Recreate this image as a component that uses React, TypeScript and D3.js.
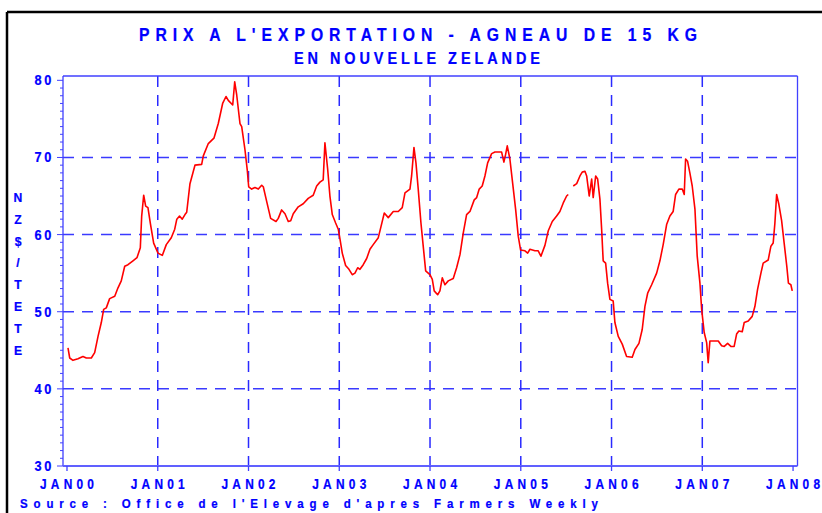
import React from "react";
import * as d3 from "d3";

const times: number[] = [
  2000.011, 2000.030, 2000.066, 2000.121, 2000.176, 2000.213, 2000.268, 2000.305, 2000.342, 2000.378,
  2000.404, 2000.433, 2000.470, 2000.526, 2000.562, 2000.598, 2000.636, 2000.672, 2000.727, 2000.771,
  2000.808, 2000.823, 2000.845, 2000.867, 2000.892, 2000.918, 2000.955, 2001.003, 2001.050, 2001.094,
  2001.149, 2001.187, 2001.210, 2001.240, 2001.270, 2001.300, 2001.319, 2001.355, 2001.410, 2001.484,
  2001.502, 2001.557, 2001.619, 2001.667, 2001.715, 2001.752, 2001.777, 2001.826, 2001.848, 2001.870,
  2001.906, 2001.925, 2001.961, 2001.986, 2002.002, 2002.035, 2002.071, 2002.108, 2002.145, 2002.163,
  2002.200, 2002.244, 2002.303, 2002.328, 2002.365, 2002.402, 2002.438, 2002.465, 2002.493, 2002.548,
  2002.603, 2002.658, 2002.713, 2002.751, 2002.787, 2002.823, 2002.842, 2002.872, 2002.897, 2002.923,
  2002.960, 2002.989, 2003.008, 2003.033, 2003.070, 2003.107, 2003.143, 2003.173, 2003.203, 2003.228,
  2003.264, 2003.302, 2003.338, 2003.374, 2003.430, 2003.459, 2003.496, 2003.540, 2003.595, 2003.650,
  2003.694, 2003.724, 2003.779, 2003.797, 2003.823, 2003.845, 2003.870, 2003.900, 2003.925, 2003.952,
  2003.980, 2003.999, 2004.025, 2004.046, 2004.084, 2004.109, 2004.135, 2004.164, 2004.201, 2004.256,
  2004.293, 2004.330, 2004.366, 2004.403, 2004.440, 2004.487, 2004.514, 2004.542, 2004.575, 2004.605,
  2004.635, 2004.679, 2004.715, 2004.789, 2004.814, 2004.833, 2004.851, 2004.880, 2004.910, 2004.943,
  2004.972, 2004.998, 2005.046, 2005.076, 2005.101, 2005.156, 2005.192, 2005.222, 2005.266, 2005.303,
  2005.347, 2005.395, 2005.431, 2005.468, 2005.505, 2005.523, 2005.550, 2005.578, 2005.616, 2005.652,
  2005.677, 2005.707, 2005.726, 2005.754, 2005.781, 2005.798, 2005.825, 2005.847, 2005.872, 2005.891,
  2005.908, 2005.935, 2005.957, 2005.982, 2006.018, 2006.037, 2006.074, 2006.118, 2006.166, 2006.228,
  2006.258, 2006.302, 2006.338, 2006.368, 2006.398, 2006.442, 2006.497, 2006.533, 2006.569, 2006.607,
  2006.643, 2006.679, 2006.706, 2006.742, 2006.779, 2006.801, 2006.816, 2006.838, 2006.863, 2006.889,
  2006.919, 2006.944, 2006.974, 2006.993, 2007.021, 2007.048, 2007.065, 2007.084, 2007.139, 2007.176,
  2007.213, 2007.242, 2007.279, 2007.315, 2007.351, 2007.378, 2007.403, 2007.440, 2007.462, 2007.506,
  2007.550, 2007.580, 2007.609, 2007.646, 2007.671, 2007.726, 2007.756, 2007.781, 2007.800, 2007.819,
  2007.844, 2007.874, 2007.902, 2007.931, 2007.949, 2007.976, 2007.991,
];

// Price in NZ$ per head (null = missing week)
const prices: (number | null)[] = [
  45.3, 44.0, 43.7, 43.9, 44.2, 44.0, 44.0, 44.7, 46.8, 48.6,
  50.3, 50.5, 51.7, 52.0, 53.1, 54.0, 55.9, 56.1, 56.6, 57.0,
  58.3, 62.4, 65.1, 63.7, 63.5, 61.5, 58.9, 57.6, 57.3, 58.7,
  59.6, 60.7, 62.0, 62.4, 62.0, 62.6, 62.9, 66.6, 69.0, 69.1,
  70.2, 71.8, 72.5, 74.4, 77.0, 77.9, 77.4, 76.8, 79.8, 78.1,
  74.4, 74.0, 71.0, 68.4, 66.2, 65.9, 66.1, 65.9, 66.4, 66.2,
  64.3, 62.1, 61.7, 62.1, 63.2, 62.7, 61.7, 61.8, 62.7, 63.6,
  64.0, 64.7, 65.1, 66.3, 66.8, 67.1, 71.9, 68.5, 65.0, 62.6,
  61.5, 60.7, 59.4, 57.6, 56.0, 55.5, 54.8, 55.0, 55.7, 55.5,
  56.1, 56.9, 58.1, 58.7, 59.6, 61.0, 62.8, 62.2, 63.0, 63.0,
  63.5, 65.4, 65.9, 67.6, 71.3, 69.3, 65.9, 61.5, 58.5, 55.3,
  55.0, 54.8, 54.2, 52.7, 52.2, 52.7, 54.4, 53.5, 54.0, 54.3,
  55.7, 57.4, 60.2, 62.6, 63.0, 64.5, 64.8, 65.9, 66.3, 67.6,
  69.3, 70.5, 70.7, 70.7, 69.4, 70.4, 71.5, 69.8, 66.7, 63.3,
  59.8, 58.0, 57.9, 57.6, 58.1, 57.9, 57.9, 57.2, 58.6, 60.5,
  61.7, 62.4, 63.0, 64.1, 65.0, 65.2, null, 66.3, 66.6, 67.6,
  68.1, 68.2, 67.6, 65.0, 67.2, 64.8, 67.6, 67.2, 64.6, 60.7,
  56.6, 56.3, 53.7, 51.6, 51.4, 48.6, 46.8, 45.8, 44.2, 44.1,
  45.1, 45.9, 47.7, 50.7, 52.4, 53.5, 55.0, 56.6, 58.7, 61.3,
  62.4, 63.0, 65.2, 65.9, 65.9, 65.2, 69.8, 69.5, 68.0, 66.3,
  63.3, 57.2, 53.7, 50.3, 47.3, 46.0, 43.4, 46.2, 46.2, 46.2,
  45.6, 45.5, 45.9, 45.5, 45.5, 47.1, 47.5, 47.4, 48.6, 48.8,
  49.4, 50.7, 52.9, 55.0, 56.3, 56.7, 58.5, 58.9, 61.5, 65.2,
  63.9, 61.8, 58.9, 55.9, 53.7, 53.5, 52.7,
];

const yearTicks: number[] = [2000, 2001, 2002, 2003, 2004, 2005, 2006, 2007, 2008];
const yearLabels: string[] = ["JAN00", "JAN01", "JAN02", "JAN03", "JAN04", "JAN05", "JAN06", "JAN07", "JAN08"];
const priceTicks: number[] = [30, 40, 50, 60, 70, 80];
const yTitle: string[] = ["N", "Z", "$", "/", "T", "E", "T", "E"];

const BLUE = "#0000ff";
const FRAME = "#4040ff";
const FONT = "'Liberation Sans', Arial, sans-serif";

// Condensed bold text: glyphs squeezed horizontally, total width fixed
function CText(props: {
  x: number; y: number; size: number; sx: number; anchor?: "start" | "middle" | "end";
  width?: number; spacing?: number; children: React.ReactNode;
}) {
  const { x, y, size, sx, anchor = "start", width, spacing, children } = props;
  return (
    <text
      transform={`translate(${x},${y}) scale(${sx},1)`}
      textAnchor={anchor}
      fill={BLUE}
      stroke={BLUE}
      strokeWidth={0.25}
      fontFamily={FONT}
      fontWeight="bold"
      fontSize={size}
      letterSpacing={spacing}
      textLength={width ? width / sx : undefined}
      lengthAdjust={width ? "spacing" : undefined}
    >
      {children}
    </text>
  );
}

export default function App() {
  const left = 63, right = 797.5, top = 76, bottom = 466;
  const x = d3.scaleLinear().domain([1999.956, 2008.049]).range([left, right]);
  const y = d3.scaleLinear().domain([30, 80.56]).range([bottom, top]);

  const pts = times.map((t, i) => ({ t, v: prices[i] }));
  const line = d3
    .line<{ t: number; v: number | null }>()
    .defined((d) => d.v !== null)
    .x((d) => x(d.t))
    .y((d) => y(d.v as number));

  const minor = d3.range(30, 81, 1);

  return (
    <svg width={822} height={513} style={{ position: "absolute", left: 0, top: 0, background: "#fff" }}>
      <rect x={0} y={0} width={822} height={513} fill="#fff" />
      {/* black outer frame */}
      <line x1={7} y1={12} x2={822} y2={12} stroke="#000" strokeWidth={2.5} />
      <line x1={7} y1={12} x2={7} y2={513} stroke="#000" strokeWidth={2.5} />

      {/* titles */}
      <CText x={418} y={41} size={18.5} sx={0.85} anchor="middle" width={558}>
        PRIX A L'EXPORTATION - AGNEAU DE 15 KG
      </CText>
      <CText x={417} y={64} size={17} sx={0.85} anchor="middle" width={246}>
        EN NOUVELLE ZELANDE
      </CText>

      {/* gridlines */}
      {priceTicks.filter((v) => v > 30 && v < 80).map((v) => (
        <line key={"h" + v} x1={left} x2={right} y1={y(v)} y2={y(v)} stroke="#3a3aff"
          strokeWidth={1.5} strokeDasharray="11 8" />
      ))}
      {yearTicks.filter((t) => t > 2000 && t < 2008).map((t) => (
        <line key={"v" + t} x1={x(t)} x2={x(t)} y1={top} y2={bottom} stroke="#2a2aff"
          strokeWidth={1.5} strokeDasharray="11 8" />
      ))}

      {/* frame */}
      <line x1={left} x2={right} y1={top} y2={top} stroke={FRAME} strokeWidth={1.3} />
      <line x1={right} x2={right} y1={top} y2={bottom} stroke={FRAME} strokeWidth={1.3} />
      <line x1={left} x2={left} y1={top} y2={bottom} stroke={FRAME} strokeWidth={1.3} />
      <line x1={left} x2={right} y1={bottom} y2={bottom} stroke="#6060ff" strokeWidth={2} />

      {/* y ticks */}
      {minor.map((v) => (
        <line key={"m" + v} x1={v % 10 === 0 ? left - 6 : left - 3} x2={left} y1={y(v)} y2={y(v)}
          stroke={FRAME} strokeWidth={1} />
      ))}
      {priceTicks.map((v) => (
        <CText key={"yl" + v} x={54} y={y(v) + 5} size={14.5} sx={0.88} anchor="end" spacing={3}>
          {v}
        </CText>
      ))}

      {/* x ticks */}
      {yearTicks.map((t, i) => (
        <g key={"x" + t}>
          <line x1={x(t)} x2={x(t)} y1={bottom} y2={bottom + 5} stroke={FRAME} strokeWidth={1.3} />
          <CText x={x(t)} y={488.5} size={14} sx={0.85} anchor="middle" width={54}>
            {yearLabels[i]}
          </CText>
        </g>
      ))}

      {/* y title */}
      {yTitle.map((c, i) => (
        <CText key={"yt" + i} x={18} y={202 + i * 21.8} size={13.5} sx={0.9} anchor="middle">
          {c}
        </CText>
      ))}

      {/* data */}
      <path d={line(pts) || ""} fill="none" stroke="#ff0000" strokeWidth={1.6} strokeLinejoin="round" />

      {/* source */}
      <CText x={20} y={508} size={13.5} sx={0.85} width={578}>
        Source : Office de l'Elevage d'apres Farmers Weekly
      </CText>
    </svg>
  );
}
